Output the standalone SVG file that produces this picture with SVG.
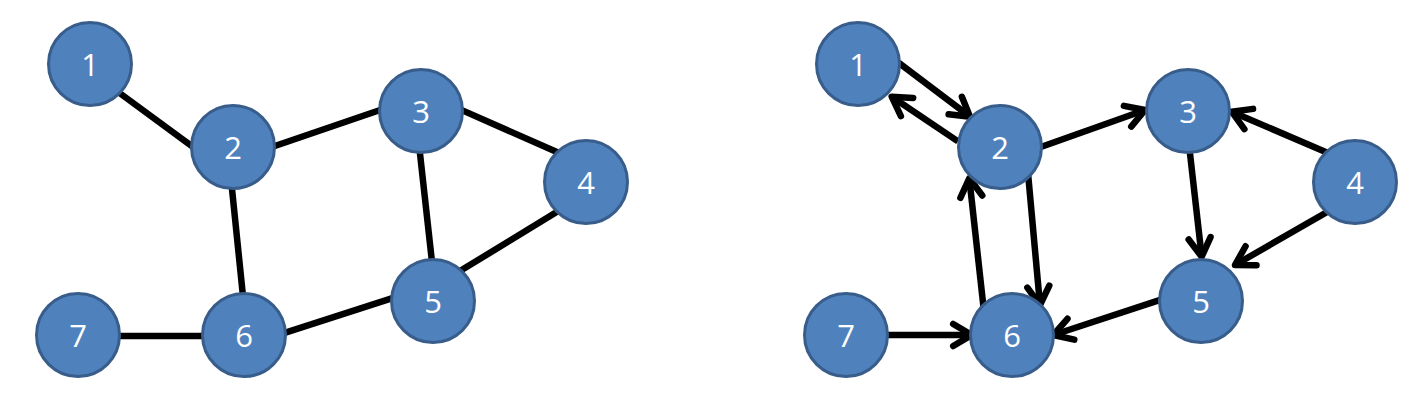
<svg xmlns="http://www.w3.org/2000/svg" width="1422" height="400" viewBox="0 0 1422 400">
  <style>
    .node circle { fill: #4F81BD; stroke: #385D8A; stroke-width: 3; }
    .node text { fill: #FFFFFF; font-family: "Open Sans", "Liberation Sans", Arial, sans-serif; font-size: 31px; text-anchor: middle; }
    .edge { stroke: #000000; stroke-width: 6.5; fill: none; }
    .arrow { stroke: #000000; stroke-width: 6.5; fill: none; marker-end: url(#open); }
  </style>
  <defs>
    <marker id="open" markerUnits="userSpaceOnUse" viewBox="-25 -15 30 30" markerWidth="30" markerHeight="30" refX="0" refY="0" orient="auto" overflow="visible">
      <path d="M -18.5 -11 L 0 0 L -18.5 11" fill="none" stroke="#000000" stroke-width="6.5" stroke-linejoin="round" stroke-linecap="round"/>
    </marker>
  </defs>
  <rect width="1422" height="400" fill="#FFFFFF"/>

  <g id="connectors">
    <!-- Left undirected graph -->
    <line class="edge" x1="116.8" y1="91" x2="194.9" y2="148.4"/>
    <line class="edge" x1="271.2" y1="147.3" x2="383.8" y2="108.7"/>
    <line class="edge" x1="459.6" y1="109.1" x2="562" y2="154.3"/>
    <line class="edge" x1="419.6" y1="150" x2="432.1" y2="263"/>
    <line class="edge" x1="560.7" y1="209.6" x2="458.3" y2="272.1"/>
    <line class="edge" x1="395.5" y1="297.1" x2="283.9" y2="333.2"/>
    <line class="edge" x1="231.6" y1="185" x2="243.1" y2="297.3"/>
    <line class="edge" x1="117" y1="336" x2="205.7" y2="336"/>
    <!-- Right directed graph -->
    <line class="arrow" x1="898.5" y1="62.6" x2="970" y2="116.7"/>
    <line class="arrow" x1="958" y1="141.4" x2="891.7" y2="96.7"/>
    <line class="arrow" x1="1028" y1="173" x2="1040" y2="305"/>
    <line class="arrow" x1="983.7" y1="309" x2="969.3" y2="178.3"/>
    <line class="arrow" x1="1038" y1="148" x2="1145" y2="110"/>
    <line class="arrow" x1="1328" y1="153" x2="1231.7" y2="111.7"/>
    <line class="arrow" x1="1189.6" y1="150" x2="1201.7" y2="256.7"/>
    <line class="arrow" x1="1328" y1="211.5" x2="1235" y2="265"/>
    <line class="arrow" x1="1164" y1="298.7" x2="1053.3" y2="335"/>
    <line class="arrow" x1="883" y1="335" x2="971.7" y2="335"/>
  </g>

  <!-- Left graph nodes -->
  <g id="L1" class="node"><circle cx="90" cy="64" r="41.5"/><text x="90" y="76">1</text></g>
  <g id="L2" class="node"><circle cx="233" cy="147" r="41.5"/><text x="233" y="159">2</text></g>
  <g id="L3" class="node"><circle cx="421" cy="111" r="41.5"/><text x="421" y="123">3</text></g>
  <g id="L4" class="node"><circle cx="586" cy="182" r="41.5"/><text x="586" y="194">4</text></g>
  <g id="L5" class="node"><circle cx="433" cy="301" r="41.5"/><text x="433" y="313">5</text></g>
  <g id="L6" class="node"><circle cx="244" cy="335" r="41.5"/><text x="244" y="347">6</text></g>
  <g id="L7" class="node"><circle cx="78" cy="335" r="41.5"/><text x="78" y="347">7</text></g>

  <!-- Right graph nodes -->
  <g id="R1" class="node"><circle cx="858" cy="64" r="41.5"/><text x="858" y="76">1</text></g>
  <g id="R2" class="node"><circle cx="1000" cy="147" r="41.5"/><text x="1000" y="159">2</text></g>
  <g id="R3" class="node"><circle cx="1188" cy="111" r="41.5"/><text x="1188" y="123">3</text></g>
  <g id="R4" class="node"><circle cx="1355" cy="182" r="41.5"/><text x="1355" y="194">4</text></g>
  <g id="R5" class="node"><circle cx="1201" cy="301" r="41.5"/><text x="1201" y="313">5</text></g>
  <g id="R6" class="node"><circle cx="1012" cy="335" r="41.5"/><text x="1012" y="347">6</text></g>
  <g id="R7" class="node"><circle cx="846" cy="335" r="41.5"/><text x="846" y="347">7</text></g>
</svg>
